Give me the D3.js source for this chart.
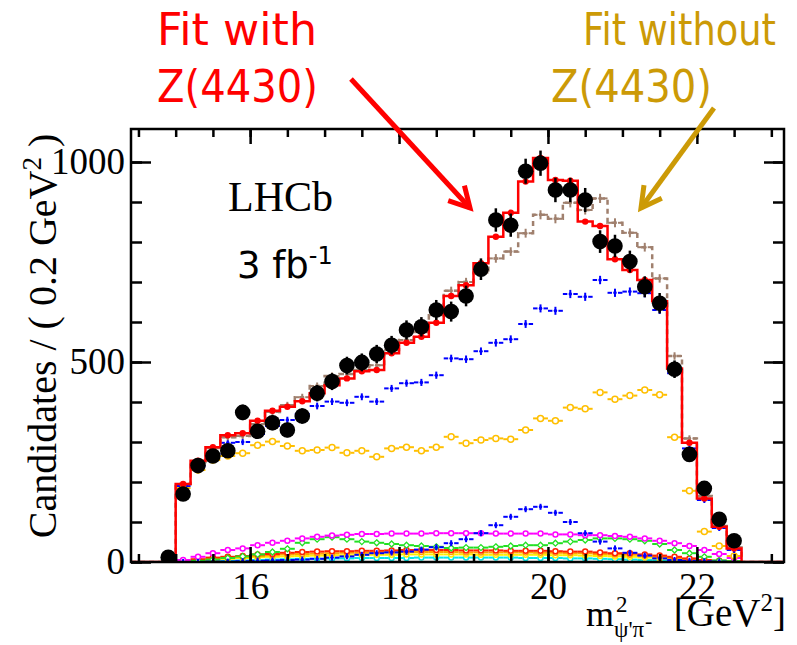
<!DOCTYPE html>
<html>
<head>
<meta charset="utf-8">
<script src="https://cdn.jsdelivr.net/npm/d3@7"></script>
<style>
body { margin: 0; background: #fff; }
svg { display: block; }
</style>
</head>
<body>
<svg width="797" height="645"></svg>
<script>
var svg = d3.select("svg");

// bin centres, 0.2 GeV^2 wide
var dataCentres = d3.range(39).map(function (i) { return +(14.9 + 0.2 * i).toFixed(1); });
var fitCentres = dataCentres.slice(1);

// data points (black)
var dataValues = [12, 170, 241, 265, 278, 374, 327, 348, 330, 365, 422, 451, 491, 499, 520, 542, 580, 588, 630, 626,
    665, 732, 855, 842, 977, 997, 930, 930, 905, 801, 790, 751, 688, 647, 482, 269, 184, 107, 53];
// fit with Z(4430), red
var fitWith = [195, 253, 287, 317, 322, 353, 378, 388, 402, 422, 442, 459, 477, 480, 522, 548, 563, 598, 665, 692,
    747, 813, 873, 951, 1010, 955, 953, 851, 840, 757, 730, 705, 652, 484, 298, 159, 88, 34];
// fit without Z(4430), brown dashed
var fitWithout = [195, 250, 285, 312, 315, 345, 375, 392, 412, 440, 465, 470, 480, 492, 530, 555, 575, 617, 678, 700,
    723, 759, 776, 822, 868, 858, 898, 880, 909, 848, 823, 787, 709, 515, 309, 165, 90, 36];
// components
var blueMain = [190, 240, 270, 298, 300, 320, 340, 355, 370, 390, 401, 398, 413, 401, 434, 447, 449, 467, 509, 507,
    527, 548, 557, 595, 634, 628, 670, 663, 705, 673, 676, 672, 630, 472, 284, 155, 85, 30];
var goldMain = [185, 230, 255, 265, 272, 292, 301, 290, 278, 280, 286, 273, 278, 263, 284, 287, 278, 287, 313, 297,
    305, 309, 307, 330, 359, 353, 386, 383, 424, 407, 416, 430, 418, 312, 178, 76, 40, 15];
var blueBump = [0, 0, 1, 1, 2, 3, 4, 5, 6, 8, 11, 14, 18, 22, 24, 26, 31, 37, 47, 57,
    72, 92, 113, 132, 138, 123, 100, 72, 51, 34, 23, 16, 9, 5, 3, 2, 1, 0];
var magentaComp = [5, 13, 22, 30, 34, 42, 48, 53, 59, 63, 66, 68, 70, 70, 71, 71, 71, 72, 72, 72,
    72, 71, 71, 71, 71, 69, 69, 67, 67, 65, 63, 59, 53, 47, 40, 30, 20, 10];
var greenComp = [1, 3, 6, 10, 14, 19, 25, 33, 48, 57, 62, 57, 51, 48, 45, 42, 40, 38, 35, 36,
    36, 38, 40, 42, 42, 47, 51, 55, 59, 59, 57, 53, 45, 30, 22, 13, 4, 2];
var redComp = [3, 7, 11, 13, 15, 19, 20, 23, 25, 26, 27, 27, 28, 28, 29, 30, 30, 30, 30, 29,
    29, 29, 28, 28, 28, 27, 26, 26, 24, 22, 22, 19, 16, 13, 9, 5, 3, 1];
var orangeComp = [2, 5, 8, 11, 13, 15, 17, 19, 20, 21, 22, 23, 23, 24, 24, 25, 25, 25, 25, 24,
    24, 24, 24, 24, 23, 23, 22, 22, 20, 19, 18, 16, 13, 10, 7, 4, 2, 1];
var yellowComp = [1, 3, 6, 8, 10, 12, 13, 14, 15, 16, 17, 17, 18, 18, 18, 19, 19, 19, 19, 19,
    18, 18, 18, 18, 18, 17, 17, 16, 15, 14, 13, 11, 9, 7, 5, 3, 1, 0];
var cyanComp = [0, 1, 2, 3, 4, 5, 6, 7, 8, 8, 9, 9, 10, 10, 10, 10, 11, 11, 11, 11,
    11, 11, 11, 10, 10, 10, 9, 9, 8, 7, 6, 5, 4, 3, 2, 1, 1, 0];

var xMajor = [16, 18, 20, 22];
var xMinor = d3.range(14.5, 23.01, 0.5);
var yMajor = [0, 500, 1000];
var yMinor = d3.range(0, 1001, 100);

var binW = 0.2;
var x = d3.scaleLinear().domain([14.4, 23.17]).range([131, 784]);
var y = d3.scaleLinear().domain([0, 1082.5]).range([562, 129]);

var plot = svg.append("g");
var clip = svg.append("clipPath").attr("id", "clip");
clip.append("rect").attr("x", 131).attr("y", 129).attr("width", 653).attr("height", 433);
plot.attr("clip-path", "url(#clip)");

// error-bar style series: horizontal bin-width bar with gap for the marker
var barSeries = function (vals, colour, marker, gap) {
    var g = plot.append("g");
    var pts = fitCentres.map(function (c, i) { return [c, vals[i]]; });
    pts.forEach(function (d) {
        var cx = x(d[0]), cy = y(d[1]);
        var hw = (x(d[0] + binW / 2) - x(d[0] - binW / 2)) / 2;
        g.append("line").attr("x1", cx - hw).attr("x2", cx - gap).attr("y1", cy).attr("y2", cy)
            .attr("stroke", colour).attr("stroke-width", 2);
        g.append("line").attr("x1", cx + gap).attr("x2", cx + hw).attr("y1", cy).attr("y2", cy)
            .attr("stroke", colour).attr("stroke-width", 2);
        if (marker == "circle") {
            g.append("circle").attr("cx", cx).attr("cy", cy).attr("r", gap - 0.5)
                .attr("fill", "white").attr("stroke", colour).attr("stroke-width", 1.5);
        } else if (marker == "diamond") {
            g.append("path").attr("d", "M" + cx + "," + (cy - 3) + "l3,3l-3,3l-3,-3z")
                .attr("fill", "white").attr("stroke", colour).attr("stroke-width", 1.3);
        } else {
            // small cross marker with stat error
            var e = Math.max(2, Math.sqrt(d[1]) * 0.4 * 0.3);
            g.append("line").attr("x1", cx).attr("x2", cx).attr("y1", cy - e - 1).attr("y2", cy + e + 1)
                .attr("stroke", colour).attr("stroke-width", 2);
            g.append("circle").attr("cx", cx).attr("cy", cy).attr("r", 1.8).attr("fill", colour);
        }
    });
};

// step histogram (fit curves)
var stepPath = function (vals) {
    var pts = [[x.domain()[0], 0], [fitCentres[0] - binW / 2, 0]];
    fitCentres.forEach(function (c, i) {
        pts.push([c - binW / 2, vals[i]]);
        pts.push([c + binW / 2, vals[i]]);
    });
    pts.push([fitCentres[fitCentres.length - 1] + binW / 2, 0]);
    pts.push([x.domain()[1], 0]);
    return d3.line().x(function (d) { return x(d[0]); }).y(function (d) { return y(d[1]); })(pts);
};

barSeries(cyanComp, "#00e8e8", "circle", 3);
barSeries(yellowComp, "#ffee00", "circle", 3);
barSeries(orangeComp, "#ffa200", "circle", 3);
barSeries(redComp, "#ff2200", "circle", 3);
barSeries(greenComp, "#22e022", "diamond", 3);
barSeries(magentaComp, "#ff00ff", "circle", 3);
barSeries(blueBump, "#0000ff", "cross", 3);
barSeries(goldMain, "#ffbf00", "circle", 3.5);
barSeries(blueMain, "#0000ff", "cross", 3);

// fit without Z (brown dashed)
plot.append("path").attr("d", stepPath(fitWithout)).attr("fill", "none")
    .attr("stroke", "#a0806e").attr("stroke-width", 2.5).attr("stroke-dasharray", "5,4");
barSeries(fitWithout, "#a0806e", "cross", 3);

// fit with Z (red)
plot.append("path").attr("d", stepPath(fitWith)).attr("fill", "none")
    .attr("stroke", "#ff0000").attr("stroke-width", 2.5);
plot.selectAll("circle.fitpt").data(fitWith).enter().append("circle")
    .attr("class", "fitpt")
    .attr("cx", function (d, i) { return x(fitCentres[i]); })
    .attr("cy", function (d) { return y(d); })
    .attr("r", 3.2).attr("fill", "#ff0000");

// data points
var dataG = plot.append("g");
dataCentres.forEach(function (c, i) {
    var v = dataValues[i];
    var e = Math.sqrt(v);
    dataG.append("line").attr("x1", x(c)).attr("x2", x(c))
        .attr("y1", y(v + e)).attr("y2", y(Math.max(0, v - e)))
        .attr("stroke", "black").attr("stroke-width", 2.5);
    dataG.append("circle").attr("cx", x(c)).attr("cy", y(v)).attr("r", 7.8).attr("fill", "black");
});

// frame and axes
svg.append("rect").attr("x", 131).attr("y", 129).attr("width", 653).attr("height", 433)
    .attr("fill", "none").attr("stroke", "black").attr("stroke-width", 2.5);

var axisStyle = function (g) {
    g.select(".domain").remove();
    g.selectAll("line").attr("stroke", "black").attr("stroke-width", 2.5);
    g.selectAll("text").attr("font-family", "Liberation Serif, Times New Roman, serif")
        .attr("font-size", 37).attr("fill", "black");
};

svg.append("g").attr("transform", "translate(0,562)")
    .call(d3.axisBottom(x).tickValues(xMinor).tickSize(-8).tickFormat("")).call(axisStyle);
svg.append("g").attr("transform", "translate(0,562)")
    .call(d3.axisBottom(x).tickValues(xMajor).tickSize(-15).tickPadding(11).tickFormat(d3.format("d")))
    .call(axisStyle);
svg.append("g").attr("transform", "translate(0,129)")
    .call(d3.axisTop(x).tickValues(xMinor).tickSize(-8).tickFormat("")).call(axisStyle);
svg.append("g").attr("transform", "translate(0,129)")
    .call(d3.axisTop(x).tickValues(xMajor).tickSize(-15).tickFormat("")).call(axisStyle);

svg.append("g").attr("transform", "translate(131,0)")
    .call(d3.axisLeft(y).tickValues(yMinor).tickSize(-11).tickFormat("")).call(axisStyle);
svg.append("g").attr("transform", "translate(131,0)")
    .call(d3.axisLeft(y).tickValues(yMajor).tickSize(-20).tickPadding(6).tickFormat(d3.format("d")))
    .call(axisStyle);
svg.append("g").attr("transform", "translate(784,0)")
    .call(d3.axisRight(y).tickValues(yMinor).tickSize(-11).tickFormat("")).call(axisStyle);
svg.append("g").attr("transform", "translate(784,0)")
    .call(d3.axisRight(y).tickValues(yMajor).tickSize(-20).tickFormat("")).call(axisStyle);

// axis titles
var serif = "Liberation Serif, Times New Roman, serif";
var yTitle = svg.append("text").attr("transform", "translate(56,336) rotate(-90)")
    .attr("text-anchor", "middle").attr("font-family", serif).attr("font-size", 40);
yTitle.append("tspan").text("Candidates / ( 0.2 GeV");
yTitle.append("tspan").text("2").attr("font-size", 27).attr("dy", -15);
yTitle.append("tspan").text(" )").attr("dy", 15);

// m^2 with sub/superscripts placed piece by piece
svg.append("text").text("m").attr("x", 586).attr("y", 626)
    .attr("font-family", serif).attr("font-size", 36);
svg.append("text").text("2").attr("x", 616).attr("y", 612)
    .attr("font-family", serif).attr("font-size", 23);
svg.append("text").text("ψ'π").attr("x", 614).attr("y", 637)
    .attr("font-family", serif).attr("font-size", 23);
svg.append("text").text("-").attr("x", 645).attr("y", 628)
    .attr("font-family", serif).attr("font-size", 22);
var gev = svg.append("text").attr("x", 786).attr("y", 626).attr("text-anchor", "end")
    .attr("font-family", serif).attr("font-size", 39);
gev.append("tspan").text("[GeV");
gev.append("tspan").text("2").attr("font-size", 25).attr("dy", -15);
gev.append("tspan").text("]").attr("dy", 15);

// labels inside
svg.append("text").text("LHCb").attr("x", 228).attr("y", 211)
    .attr("font-family", serif).attr("font-size", 42);
var lumi = svg.append("text").attr("x", 237).attr("y", 278)
    .attr("font-family", "DejaVu Sans, sans-serif").attr("font-size", 37);
lumi.append("tspan").text("3 fb");
lumi.append("tspan").text("-1").attr("font-size", 24).attr("dy", -14);

// annotations
var sans = "DejaVu Sans, sans-serif";
var note = function (txt, x0, y0, len, colour) {
    svg.append("text").text(txt).attr("x", x0).attr("y", y0)
        .attr("font-family", sans).attr("font-size", 44).attr("fill", colour)
        .attr("textLength", len).attr("lengthAdjust", "spacingAndGlyphs");
};
note("Fit with", 157, 45, 160, "#ff0000");
note("Z(4430)", 157, 102, 161, "#ff0000");
note("Fit without", 583, 45, 193, "#cc9a06");
note("Z(4430)", 551, 102, 161, "#cc9a06");

var arrow = function (x1, y1, x2, y2, colour) {
    var a = Math.atan2(y2 - y1, x2 - x1);
    var L = 23, w = 0.5;
    svg.append("line").attr("x1", x1).attr("y1", y1).attr("x2", x2).attr("y2", y2)
        .attr("stroke", colour).attr("stroke-width", 5);
    var p = [[x2 - L * Math.cos(a - w), y2 - L * Math.sin(a - w)], [x2, y2],
        [x2 - L * Math.cos(a + w), y2 - L * Math.sin(a + w)]];
    svg.append("path").attr("d", d3.line()(p)).attr("fill", "none")
        .attr("stroke", colour).attr("stroke-width", 5).attr("stroke-linejoin", "miter");
};
arrow(351, 79, 470, 208, "#ff0000");
arrow(714, 108, 641, 208, "#cc9a06");
</script>
</body>
</html>
